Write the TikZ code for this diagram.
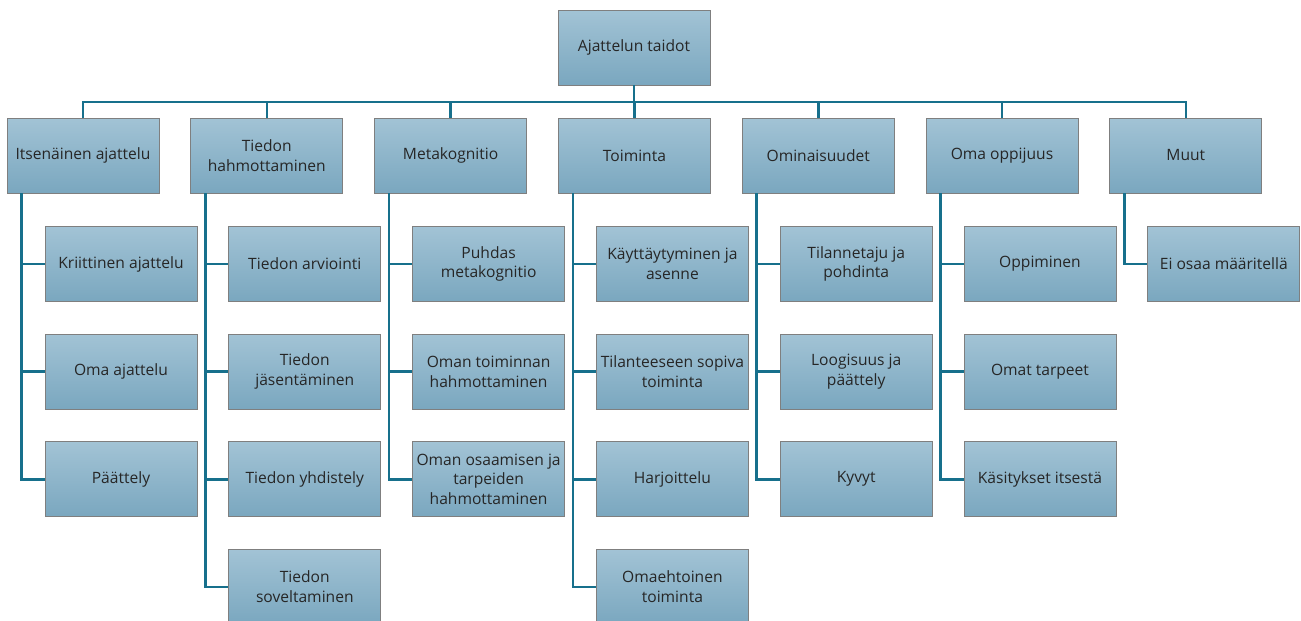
\documentclass[tikz,border=0pt]{standalone}
\usepackage{fontspec}
\setmainfont{Open Sans}
\definecolor{boxtop}{HTML}{A2C3D5}
\definecolor{boxbot}{HTML}{7AA7BF}
\definecolor{boxline}{HTML}{7F7F7F}
\definecolor{wire}{HTML}{17708C}
\tikzset{
  card/.style={draw=boxline, line width=0.9pt, top color=boxtop, bottom color=boxbot,
    minimum width=152pt, minimum height=75pt, inner sep=2pt, align=center,
    font=\fontsize{15.6}{19.5}\selectfont, text=black!85},
  wirestyle/.style={draw=wire, line width=2.6pt}
}
\begin{document}
\begin{tikzpicture}[x=1pt,y=-1pt]
\useasboundingbox (0,0) rectangle (1301,621);

% root
\node[card] (root) at (634,47.5) {Ajattelun taidot};

% first level
\foreach \i/\name/\txt in {0/a/Itsenäinen ajattelu, 1/b/Tiedon\\hahmottaminen, 2/c/Metakognitio,
  3/d/Toiminta, 4/e/Ominaisuudet, 5/f/Oma oppijuus, 6/g/Muut}
  \node[card] (\name) at ({83+183.8*\i},155.5) {\txt};

% second level
\foreach \p/\i/\r/\txt in {
  a/0/1/Kriittinen ajattelu, a/0/2/Oma ajattelu, a/0/3/Päättely,
  b/1/1/Tiedon arviointi, b/1/2/Tiedon\\jäsentäminen, b/1/3/Tiedon yhdistely, b/1/4/Tiedon\\soveltaminen,
  c/2/1/Puhdas\\metakognitio, c/2/2/Oman toiminnan\\hahmottaminen, c/2/3/Oman osaamisen ja\\tarpeiden\\hahmottaminen,
  d/3/1/Käyttäytyminen ja\\asenne, d/3/2/Tilanteeseen sopiva\\toiminta, d/3/3/Harjoittelu, d/3/4/Omaehtoinen\\toiminta,
  e/4/1/Tilannetaju ja\\pohdinta, e/4/2/Loogisuus ja\\päättely, e/4/3/Kyvyt,
  f/5/1/Oppiminen, f/5/2/Omat tarpeet, f/5/3/Käsitykset itsestä,
  g/6/1/Ei osaa määritellä}
  \node[card] (\p\r) at ({121+183.8*\i},{264+107.6*(\r-1)}) {\txt};

% bus from root to the first level
\coordinate (bus) at (634,102);
\foreach \name in {a,b,c,d,e,f,g}
  \draw[wirestyle] (root.south) |- (\name.north |- bus) -- (\name.north);

% spines from each first-level box to its children
\foreach \p/\last in {a/3,b/4,c/3,d/4,e/3,f/3,g/1}{
  \foreach \r in {1,...,\last}
    \draw[wirestyle] ([xshift=15pt]\p.south west) |- (\p\r.west);
}
\end{tikzpicture}
\end{document}
